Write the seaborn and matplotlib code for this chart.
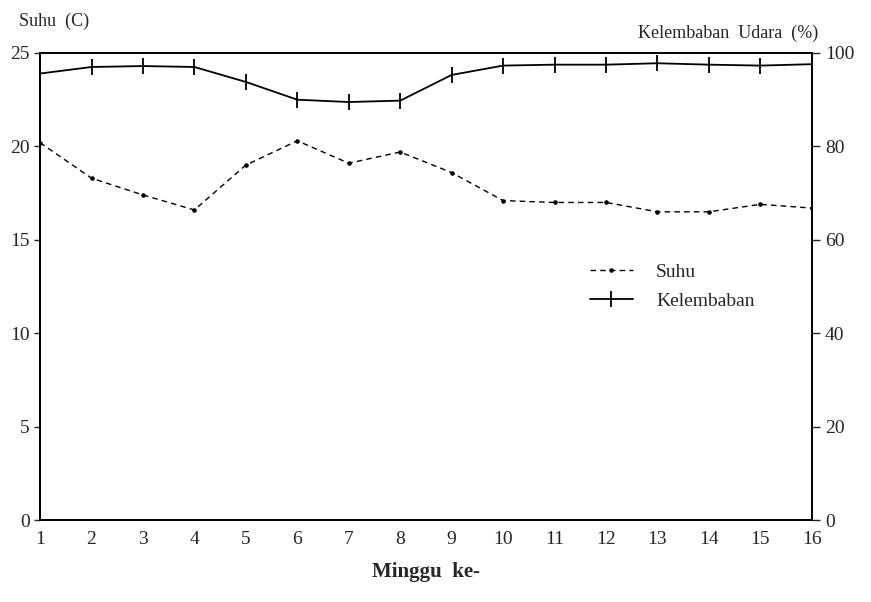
import matplotlib
matplotlib.use('Agg')
import matplotlib.pyplot as plt
import seaborn as sns
import pandas as pd

# minggu ke-
minggu = list(range(1, 17))
# suhu (C), sumbu kiri
suhu = [20.2, 18.3, 17.4, 16.6, 19.0, 20.3, 19.1, 19.7, 18.6, 17.1, 17.0, 17.0, 16.5, 16.5, 16.9, 16.7]
# kelembaban udara (%), sumbu kanan
kelembaban = [95.6, 97.0, 97.2, 97.0, 93.8, 90.0, 89.5, 89.8, 95.3, 97.3, 97.5, 97.5, 97.8, 97.5, 97.3, 97.6]

df = pd.DataFrame({'Minggu': minggu, 'Suhu': suhu, 'Kelembaban': kelembaban})

sns.set_style('white')
plt.rcParams['font.family'] = ['Liberation Serif', 'DejaVu Serif']
plt.rcParams['font.size'] = 13

fig = plt.figure(figsize=(8.71, 6.02), dpi=100)
ax = fig.add_axes([0.046, 0.136, 0.886, 0.776])
ax2 = ax.twinx()

sns.lineplot(x='Minggu', y='Suhu', data=df, ax=ax, color='black', linewidth=1.0,
             linestyle=(0, (4, 3)), marker='o', markersize=2.5, markeredgecolor='black',
             markerfacecolor='black', label='Suhu', legend=False)
sns.lineplot(x='Minggu', y='Kelembaban', data=df, ax=ax2, color='black', linewidth=1.3,
             marker='|', markersize=12, markeredgewidth=1.3, markeredgecolor='black',
             label='Kelembaban', legend=False)

ax.set_xlim(1, 16)
ax.set_ylim(0, 25)
ax2.set_ylim(0, 100)
ax.set_xticks(minggu)
ax.set_yticks([0, 5, 10, 15, 20, 25])
ax2.set_yticks([0, 20, 40, 60, 80, 100])

for a in (ax, ax2):
    for s in a.spines.values():
        s.set_color('black')
        s.set_linewidth(1.3)

ax.tick_params(axis='x', direction='in', length=4, width=1, pad=8, labelsize=14)
ax.tick_params(axis='y', direction='out', length=4, width=1, labelsize=14)
ax2.tick_params(axis='y', direction='out', length=6, width=1, labelsize=14)

ax.set_xlabel('Minggu  ke-', fontsize=15, fontweight='bold', labelpad=10)
ax.set_ylabel('')
ax2.set_ylabel('')

fig.text(0.022, 0.965, 'Suhu  (C)', fontsize=13, ha='left', va='center')
fig.text(0.94, 0.945, 'Kelembaban  Udara  (%)', fontsize=13, ha='right', va='center')

h1, l1 = ax.get_legend_handles_labels()
h2, l2 = ax2.get_legend_handles_labels()
ax2.legend(h1 + h2, l1 + l2, loc='center left', bbox_to_anchor=(0.69, 0.5),
           frameon=False, fontsize=14, handlelength=2.2, handletextpad=1.2, labelspacing=0.6)

fig.savefig('out.png', dpi=100)
